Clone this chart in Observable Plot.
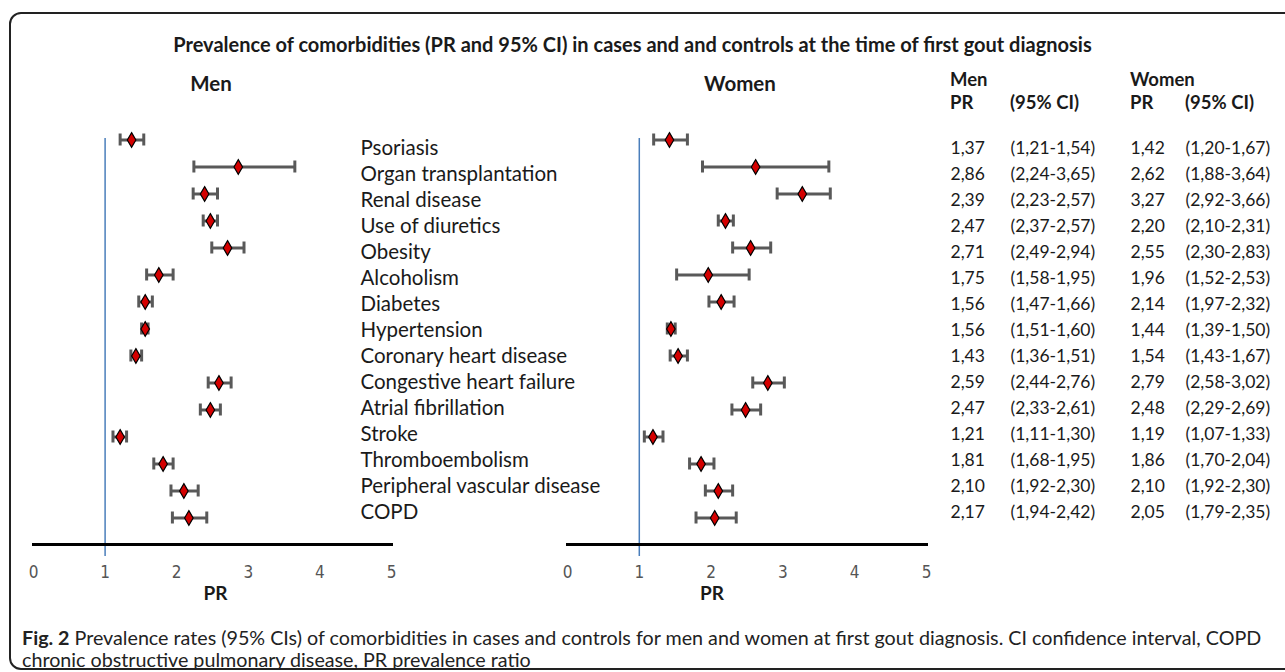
<!DOCTYPE html>
<html>
<head>
<meta charset="utf-8">
<script src="https://cdn.jsdelivr.net/npm/d3@7"></script>
<script src="https://cdn.jsdelivr.net/npm/@observablehq/plot@0.6"></script>
<style>
  html, body { margin: 0; padding: 0; background: #fff; }
  #wrap { position: relative; width: 1285px; height: 672px; overflow: hidden; font-family: Lato, "Open Sans", sans-serif; color: #1a1a1a; }
  #border { position: absolute; left: 9px; top: 12px; width: 1400px; height: 658px; border: 2px solid #222; border-radius: 12px; box-sizing: border-box; }
  .abs { position: absolute; white-space: nowrap; }
  #title { left: 0; width: 1265px; text-align: center; top: 32px; font-size: 20px; font-weight: bold; }
  .hdr { font-size: 18.5px; font-weight: bold; line-height: 22px; }
  .phdr { font-size: 20.5px; font-weight: bold; transform: translateX(-50%); }
  #caption { left: 22px; top: 627px; font-family: Lato, "Open Sans", sans-serif; font-size: 18px; line-height: 22px; color: #222; font-weight: 400; }
  #caption b { font-weight: 700; }
  .plotbox { position: absolute; top: 60px; }
  .plotbox svg { overflow: visible; background: transparent; }
</style>
</head>
<body>
<div id="wrap">
  <div id="border"></div>
  <div id="title" class="abs">Prevalence of comorbidities (PR and 95% CI) in cases and and controls at the time of first gout diagnosis</div>
  <div class="abs phdr" style="left:211px; top:71px;">Men</div>
  <div class="abs phdr" style="left:740px; top:71px;">Women</div>
  <div class="abs hdr" style="left:950px; top:68px;">Men</div>
  <div class="abs hdr" style="left:1130px; top:68px;">Women</div>
  <div class="abs hdr" style="left:950px; top:91px;">PR</div>
  <div class="abs hdr" style="left:1010px; top:91px;">(95% CI)</div>
  <div class="abs hdr" style="left:1130px; top:91px;">PR</div>
  <div class="abs hdr" style="left:1185px; top:91px;">(95% CI)</div>
  <div id="men" class="plotbox" style="left:0px;"></div>
  <div id="labels" class="plotbox" style="left:350px;"></div>
  <div id="women" class="plotbox" style="left:530px;"></div>
  <div id="table" class="plotbox" style="left:940px;"></div>
  <div id="caption" class="abs"><span id="cap1"><b>Fig. 2</b> Prevalence rates (95% CIs) of comorbidities in cases and controls for men and women at first gout diagnosis. CI confidence interval, COPD</span><br>chronic obstructive pulmonary disease, PR prevalence ratio</div>
</div>
<script>
const categories = ["Psoriasis", "Organ transplantation", "Renal disease", "Use of diuretics", "Obesity", "Alcoholism", "Diabetes", "Hypertension", "Coronary heart disease", "Congestive heart failure", "Atrial fibrillation", "Stroke", "Thromboembolism", "Peripheral vascular disease", "COPD"];
const menPR = [1.37, 2.86, 2.39, 2.47, 2.71, 1.75, 1.56, 1.56, 1.43, 2.59, 2.47, 1.21, 1.81, 2.10, 2.17];
const menLo = [1.21, 2.24, 2.23, 2.37, 2.49, 1.58, 1.47, 1.51, 1.36, 2.44, 2.33, 1.11, 1.68, 1.92, 1.94];
const menHi = [1.54, 3.65, 2.57, 2.57, 2.94, 1.95, 1.66, 1.60, 1.51, 2.76, 2.61, 1.30, 1.95, 2.30, 2.42];
const womenPR = [1.42, 2.62, 3.27, 2.20, 2.55, 1.96, 2.14, 1.44, 1.54, 2.79, 2.48, 1.19, 1.86, 2.10, 2.05];
const womenLo = [1.20, 1.88, 2.92, 2.10, 2.30, 1.52, 1.97, 1.39, 1.43, 2.58, 2.29, 1.07, 1.70, 1.92, 1.79];
const womenHi = [1.67, 3.64, 3.66, 2.31, 2.83, 2.53, 2.32, 1.50, 1.67, 3.02, 2.69, 1.33, 2.04, 2.30, 2.35];
const xTicks = [0, 1, 2, 3, 4, 5];
const xDomain = [0, 5];
const refValue = [1];

const rows = (pr, lo, hi) => categories.map((c, i) => ({cat: c, pr: pr[i], lo: lo[i], hi: hi[i]}));
const menData = rows(menPR, menLo, menHi);
const womenData = rows(womenPR, womenLo, womenHi);

const H = 540;
const yForest = () => ({type: "band", domain: categories, range: [66, 471], padding: 0, axis: null});
const yText = () => ({type: "band", domain: categories, range: [68.6, 470.6], padding: 0, axis: null});
const common = {height: H, marginTop: 66, marginBottom: 56, style: {background: "transparent", overflow: "visible"}};
const fmt = v => d3.format(".2f")(v).replace(".", ",");

const barColor = "#595959";
function forest(data, width, marginLeft, marginRight, prDx) {
  return Plot.plot({
    ...common, width, marginLeft, marginRight,
    x: {domain: xDomain, axis: null, label: null},
    y: yForest(),
    marks: [
      Plot.ruleX(refValue, {stroke: "#4a7ebb", strokeWidth: 1.5, insetTop: 12, insetBottom: -12}),
      Plot.frame({anchor: "bottom", stroke: "#000", strokeWidth: 3}),
      Plot.axisX(xTicks, {tickSize: 0, tickPadding: 21, fontSize: 17, color: "#555", fontFamily: "DejaVu Sans Condensed", fontWeight: 300, label: null}),
      Plot.ruleY(data, {y: "cat", x1: "lo", x2: "hi", stroke: barColor, strokeWidth: 3}),
      Plot.tickX(data, {x: "lo", y: "cat", stroke: barColor, strokeWidth: 3, insetTop: 7.5, insetBottom: 7.5}),
      Plot.tickX(data, {x: "hi", y: "cat", stroke: barColor, strokeWidth: 3, insetTop: 7.5, insetBottom: 7.5}),
      Plot.dot(data, {x: "pr", y: "cat", symbol: "diamond", r: 4.5, fill: "#d40000", stroke: "#000", strokeWidth: 1.2}),
      Plot.text(["PR"], {frameAnchor: "bottom", dx: prDx, dy: 55, fontWeight: "bold", fontSize: 19, fontFamily: "Lato", fill: "#1a1a1a"})
    ]
  });
}

document.getElementById("men").append(forest(menData, 440, 33, 49, 3));
document.getElementById("women").append(forest(womenData, 420, 37, 24, -35));

document.getElementById("labels").append(Plot.plot({
  ...common, width: 280, marginLeft: 0, marginRight: 0,
  y: yText(),
  marks: [
    Plot.text(categories, {y: d => d, frameAnchor: "left", dx: 10, textAnchor: "start", fontSize: 20.5, fontFamily: "Lato", fill: "#1a1a1a"})
  ]
}));

const tableText = (vals, dx) => Plot.text(menData.map((d, i) => ({cat: d.cat, t: vals[i]})), {y: "cat", text: "t", frameAnchor: "left", dx, textAnchor: "start", fontSize: 17.5, fontFamily: "Lato", fill: "#1a1a1a"});
document.getElementById("table").append(Plot.plot({
  ...common, width: 345, marginLeft: 0, marginRight: 0,
  y: yText(),
  marks: [
    tableText(menPR.map(fmt), 10),
    tableText(menLo.map((v, i) => `(${fmt(v)}-${fmt(menHi[i])})`), 70),
    tableText(womenPR.map(fmt), 190),
    tableText(womenLo.map((v, i) => `(${fmt(v)}-${fmt(womenHi[i])})`), 245)
  ]
}));

// fit caption's first line to the original width
const cap = document.getElementById("caption");
const cap1 = document.getElementById("cap1");
const w = cap1.getBoundingClientRect().width;
const fs = parseFloat(getComputedStyle(cap).fontSize);
cap.style.fontSize = Math.min(20, fs * 1240 / w) + "px";
</script>
</body>
</html>
